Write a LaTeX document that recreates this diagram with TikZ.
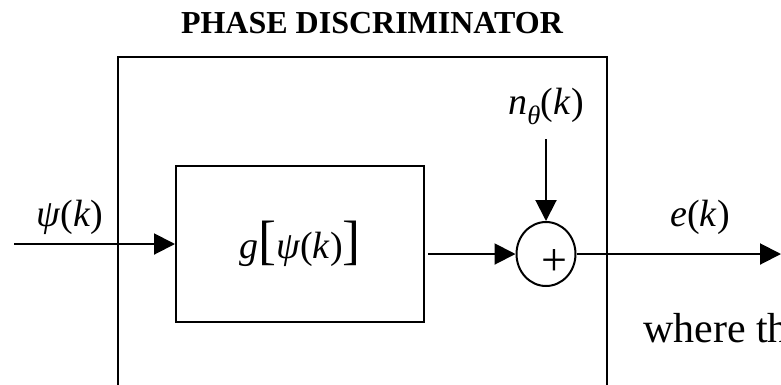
\documentclass[tikz,border=0pt]{standalone}
\usepackage{fontspec}
\setmainfont{Liberation Serif}
\usetikzlibrary{arrows.meta, shapes.geometric, positioning}

\tikzset{
  bloc/.style={draw, line width=2pt, minimum width=248pt, minimum height=156pt, inner sep=0pt},
  somme/.style={draw, ellipse, line width=2pt, minimum width=59pt, minimum height=64pt, inner sep=0pt},
  fleche/.style={line width=2pt, -{Triangle[length=21pt,width=21pt]}},
  txt/.style={font=\fontsize{38}{38}\selectfont, inner sep=0pt},
}
\newcommand{\grand}[1]{{\fontsize{54}{54}\selectfont #1}}

\begin{document}
\begin{tikzpicture}[x=1pt, y=-1pt]
        \useasboundingbox (0,0) rectangle (781,384);
        \clip (0,0) rectangle (781,384);

        % Titre
        \node[font=\bfseries\fontsize{32}{32}\selectfont] (titre) at (372,23) {PHASE DISCRIMINATOR};

        % Cadre du discriminateur (coupé en bas)
        \draw[line width=2pt] (118,420) -- (118,57) -- (607,57) -- (607,420);

        % Bloc non linéaire
        \node[bloc, font=\fontsize{38}{38}\selectfont] (g) at (300,244)
            {\textit{g}\grand{[}\textit{ψ}(\textit{k})\grand{]}};

        % Sommateur
        \node[somme] (sum) at (546,254) {};
        \node[font=\fontsize{46}{46}\selectfont, inner sep=0pt] (plus) at (554,262) {+};

        % Extrémités des flèches
        \coordinate (in) at (14,244);
        \coordinate (out) at (781,254);
        \coordinate (ntop) at (546,139);

        % Flèches
        \draw[fleche] (in) -- (g.west);
        \draw[fleche, shorten <=3pt] (g.east |- sum) -- (sum.west);
        \draw[fleche] (ntop) -- (sum.north);
        \draw[fleche] (sum.east) -- (out);

        % Etiquettes
        \node[txt] (psi) at (70,217) {\textit{ψ}(\textit{k})};
        \node[txt] (ntheta) at (546,106) {\textit{n}\textsubscript{\textit{θ}}(\textit{k})};
        \node[txt] (ek) at (700,217) {\textit{e}(\textit{k})};
        \node[font=\fontsize{42}{42}\selectfont, anchor=base west, inner sep=0pt] (where) at (643,342) {where the};

    \end{tikzpicture}
\end{document}
